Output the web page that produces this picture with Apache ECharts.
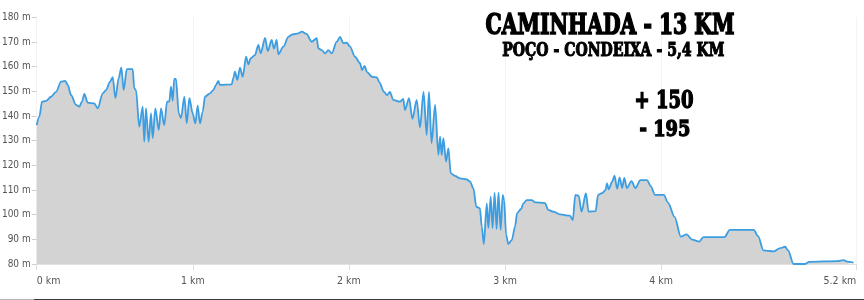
<!DOCTYPE html>
<html>
<head>
<meta charset="utf-8">
<script src="https://cdn.jsdelivr.net/npm/echarts@6/dist/echarts.min.js"></script>
<style>
html,body{margin:0;padding:0;background:#fff;}
#chart{width:864px;height:300px;}
</style>
</head>
<body>
<div id="chart"></div>
<script>
const distKm = [0.000,0.017,0.034,0.060,0.092,0.124,0.156,0.183,0.199,0.220,0.252,0.273,0.290,0.305,0.327,0.369,0.391,0.423,0.444,0.470,0.487,0.504,0.525,0.542,0.557,0.577,0.615,0.625,0.636,0.657,0.679,0.689,0.700,0.717,0.732,0.743,0.760,0.782,0.796,0.817,0.835,0.849,0.860,0.871,0.881,0.892,0.910,0.924,0.946,0.961,0.978,0.999,1.016,1.031,1.046,1.063,1.078,1.110,1.131,1.149,1.163,1.174,1.249,1.259,1.270,1.285,1.302,1.320,1.341,1.356,1.371,1.398,1.420,1.435,1.463,1.480,1.505,1.520,1.537,1.548,1.580,1.612,1.640,1.676,1.698,1.728,1.762,1.794,1.804,1.826,1.847,1.868,1.890,1.922,1.943,1.964,1.986,2.007,2.039,2.071,2.084,2.100,2.116,2.148,2.180,2.193,2.225,2.244,2.263,2.284,2.327,2.348,2.359,2.385,2.407,2.434,2.455,2.478,2.498,2.513,2.529,2.552,2.573,2.584,2.594,2.605,2.622,2.637,2.652,2.680,2.712,2.755,2.776,2.797,2.816,2.839,2.851,2.864,2.883,2.893,2.908,2.920,2.933,2.946,2.958,2.972,2.985,2.994,3.007,3.021,3.043,3.064,3.077,3.103,3.117,3.139,3.171,3.192,3.256,3.277,3.309,3.352,3.416,3.434,3.450,3.472,3.490,3.518,3.535,3.580,3.596,3.621,3.644,3.653,3.664,3.686,3.701,3.718,3.734,3.750,3.764,3.780,3.810,3.835,3.867,3.910,3.933,3.961,4.017,4.044,4.086,4.126,4.163,4.198,4.245,4.270,4.406,4.440,4.593,4.621,4.655,4.721,4.762,4.794,4.813,4.848,4.919,4.949,5.127,5.169,5.191,5.232];
const elevM = [136.3,139.7,145.8,146.1,147.8,149.8,153.9,154.2,152.6,148.5,144.5,143.8,145.8,148.9,145.4,145.1,143.1,149.2,150.5,153.9,155.7,147.2,155.3,159.7,150.5,159.0,159.0,151.2,150.5,135.7,143.8,129.6,143.1,129.6,141.1,131.0,143.1,134.3,143.1,136.3,145.8,145.8,151.9,146.1,155.0,155.0,141.1,139.1,147.8,137.0,147.2,141.1,137.0,144.2,137.0,141.7,147.8,149.2,150.5,152.6,154.2,152.6,152.8,155.3,158.0,154.6,159.6,155.9,164.0,160.9,163.4,164.7,168.8,165.4,171.7,166.3,170.8,167.2,170.8,165.0,168.1,172.1,173.1,173.5,174.2,173.3,170.1,171.5,167.4,166.7,165.4,166.7,165.4,170.1,172.1,169.5,169.7,168.1,164.0,161.4,158.6,160.3,157.8,155.9,155.6,153.8,149.8,148.5,149.8,146.5,145.8,146.9,142.4,147.2,138.8,146.5,135.3,149.8,132.3,149.8,129.0,144.5,124.2,131.6,124.2,131.0,121.5,126.9,116.8,115.7,114.7,114.3,113.4,110.7,103.2,102.6,95.1,88.1,104.6,94.6,107.3,94.6,108.8,94.2,108.9,93.8,108.0,105.9,91.8,88.1,89.7,95.1,100.6,102.3,104.6,105.9,105.9,105.0,104.7,101.9,101.2,100.1,99.6,97.8,108.0,107.6,101.2,108.7,101.2,101.4,108.0,108.7,110.0,112.7,110.3,113.4,115.8,110.5,115.1,110.8,114.9,110.8,113.6,110.8,114.0,114.0,111.6,108.0,108.0,104.9,99.1,91.1,92.0,89.9,89.1,90.9,90.9,93.8,93.8,91.3,85.5,85.1,86.4,87.0,85.5,80.0,80.0,80.9,81.2,81.6,81.0,80.6];

const xTickValues = [0, 1, 2, 3, 4, 5.25];
const xTickLabels = ['0 km', '1 km', '2 km', '3 km', '4 km', '5.2 km'];
const titleLines = ['CAMINHADA - 13 KM', 'POÇO - CONDEIXA - 5,4 KM'];
const climbLines = ['+ 150', '- 195'];

const seriesData = distKm.map((d, i) => [d, elevM[i]]);

// text layout helpers (fit heavy bold serif text to target box)
const measureCtx = document.createElement('canvas').getContext('2d');
const FAMILY = '"DejaVu Serif", "Liberation Serif", serif';
function fitText(text, cx, cy, capH, width, strokeW) {
  const size = capH / 0.729;
  const font = 'bold ' + size.toFixed(2) + 'px ' + FAMILY;
  measureCtx.font = font;
  const w = measureCtx.measureText(text).width + strokeW;
  return {
    type: 'text', x: cx, y: cy, scaleX: width / w, scaleY: 1,
    style: { text: text, x: 0, y: 0, font: font, fill: '#000', stroke: '#000', lineWidth: strokeW,
             align: 'center', verticalAlign: 'middle' },
    silent: true, z: 100
  };
}

const AXIS_FONT = '"DejaVu Sans Condensed", "Liberation Sans", sans-serif';
const chart = echarts.init(document.getElementById('chart'), null, { renderer: 'canvas' });
chart.setOption({
  animation: false,
  backgroundColor: '#fff',
  grid: { left: 36.7, right: 7.7, top: 17.3, bottom: 36, containLabel: false, outerBoundsMode: 'none' },
  xAxis: {
    type: 'value', min: 0, max: 5.25,
    axisLine: { show: true, lineStyle: { color: '#e2e2e2', width: 1 } },
    axisTick: { show: true, length: 6, customValues: xTickValues, lineStyle: { color: '#dcdcdc' } },
    splitLine: { show: true, lineStyle: { color: '#f3f3f3', width: 1 } },
    axisLabel: {
      customValues: xTickValues,
      formatter: v => { const i = xTickValues.findIndex(t => Math.abs(t - v) < 1e-6); return i >= 0 ? xTickLabels[i] : ''; },
      color: '#555', fontSize: 10.5, margin: 12, fontFamily: AXIS_FONT,
      alignMinLabel: 'left', alignMaxLabel: 'right', showMinLabel: true, showMaxLabel: true
    }
  },
  yAxis: {
    type: 'value', min: 80, max: 180, interval: 10,
    axisLine: { show: false },
    axisTick: { show: true, length: 5, lineStyle: { color: '#cfcfcf' } },
    splitLine: { show: false },
    axisLabel: {
      formatter: v => v + ' m', color: '#555', fontSize: 10, margin: 6, fontFamily: AXIS_FONT
    }
  },
  series: [{
    type: 'line', data: seriesData, showSymbol: false, symbol: 'none',
    smooth: 0.3, smoothMonotone: 'x',
    lineStyle: { color: '#3b9de2', width: 1.8 },
    areaStyle: { color: '#d3d3d3', opacity: 1, origin: 'start' },
    z: 2
  }],
  graphic: [
    fitText(titleLines[0], 610, 26.7, 20, 250, 1.6),
    fitText(titleLines[1], 613.3, 51.7, 13.3, 223, 1.1),
    fitText(climbLines[0], 664, 101.5, 17, 60, 1.4),
    fitText(climbLines[1], 665, 130, 16, 52, 1.4),
    { type: 'rect', shape: { x: 0, y: 299, width: 34, height: 1 }, style: { fill: '#b4b4b4' }, silent: true },
    { type: 'rect', shape: { x: 34, y: 299, width: 830, height: 1 }, style: { fill: '#3c3c3c' }, silent: true }
  ]
});
</script>
</body>
</html>
